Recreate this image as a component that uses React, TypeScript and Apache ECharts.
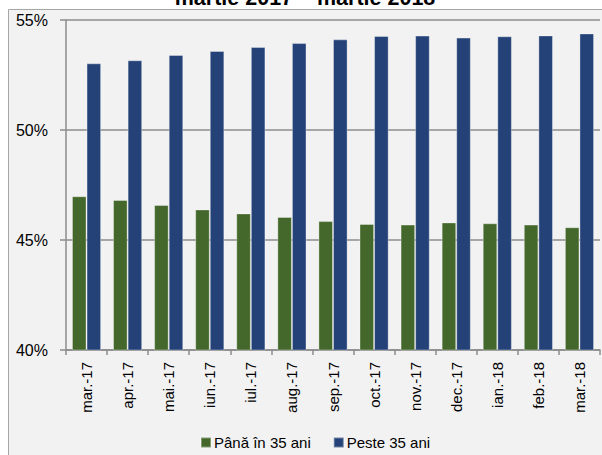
import React, { useEffect, useRef } from "react";
import * as echarts from "echarts";

const categories = [
  "mar.-17", "apr.-17", "mai.-17", "iun.-17", "iul.-17", "aug.-17", "sep.-17",
  "oct.-17", "nov.-17", "dec.-17", "ian.-18", "feb.-18", "mar.-18",
];
const sub35 = [46.99, 46.82, 46.59, 46.39, 46.21, 46.05, 45.86, 45.73, 45.7, 45.8, 45.76, 45.7, 45.58];
const over35 = [53.03, 53.17, 53.41, 53.59, 53.77, 53.95, 54.12, 54.27, 54.29, 54.2, 54.26, 54.3, 54.39];
const seriesNames = ["Până în 35 ani", "Peste 35 ani"];
const titleText = "martie 2017 – martie 2018";

const FONT = "'Liberation Sans', Arial, sans-serif";

export default function App() {
  const ref = useRef<HTMLDivElement>(null);
  useEffect(() => {
    if (!ref.current) return;
    const chart = echarts.init(ref.current, undefined, { renderer: "svg" });
    chart.setOption({
      animation: false,
      backgroundColor: "#ffffff",
      graphic: [
        {
          type: "rect",
          z: -10,
          silent: true,
          shape: { x: 8.5, y: 9.5, width: 700, height: 500 },
          style: { fill: "#f2f2f2", stroke: "#a6a6a6", lineWidth: 1 },
        },
        {
          type: "text",
          x: 305,
          y: -2,
          style: {
            text: titleText,
            fontFamily: FONT,
            fontWeight: "bold",
            fontSize: 21.5,
            fill: "#000",
            textAlign: "center",
            textVerticalAlign: "middle",
          },
        },
      ],
      grid: { left: 66, right: 2, top: 20, bottom: 105, containLabel: false },
      legend: {
        left: 195,
        top: 430,
        itemWidth: 10,
        itemHeight: 10,
        itemGap: 22,
        icon: "rect",
        textStyle: { fontFamily: FONT, fontSize: 15, color: "#000", padding: [0, 0, 0, -2] },
        data: seriesNames,
      },
      xAxis: {
        type: "category",
        data: categories,
        axisLine: { lineStyle: { color: "#8c8c8c", width: 1.5 } },
        axisTick: { show: true, length: 5, lineStyle: { color: "#8c8c8c", width: 1.5 } },
        axisLabel: {
          rotate: 90,
          margin: 12,
          fontFamily: FONT,
          fontSize: 15,
          color: "#000",
          interval: 0,
        },
      },
      yAxis: {
        type: "value",
        min: 40,
        max: 55,
        interval: 5,
        axisLine: { show: true, lineStyle: { color: "#8c8c8c", width: 1.5 } },
        axisTick: { show: true, length: 6, lineStyle: { color: "#8c8c8c", width: 1.5 } },
        splitLine: { show: true, lineStyle: { color: "#8c8c8c", width: 1.5 } },
        axisLabel: {
          formatter: "{value}%",
          margin: 18,
          fontFamily: FONT,
          fontSize: 16,
          color: "#000",
        },
      },
      series: [
        {
          name: seriesNames[0],
          type: "bar",
          data: sub35,
          barGap: "0%",
          barCategoryGap: "29%",
          itemStyle: { color: "#44682b", borderColor: "rgba(255,255,255,0.35)", borderWidth: 1 },
        },
        {
          name: seriesNames[1],
          type: "bar",
          data: over35,
          barGap: "0%",
          barCategoryGap: "29%",
          itemStyle: { color: "#244277", borderColor: "rgba(255,255,255,0.35)", borderWidth: 1 },
        },
      ],
    });
    return () => chart.dispose();
  }, []);
  return (
    <div
      ref={ref}
      style={{ position: "absolute", left: 0, top: 0, width: 602, height: 455 }}
    />
  );
}
